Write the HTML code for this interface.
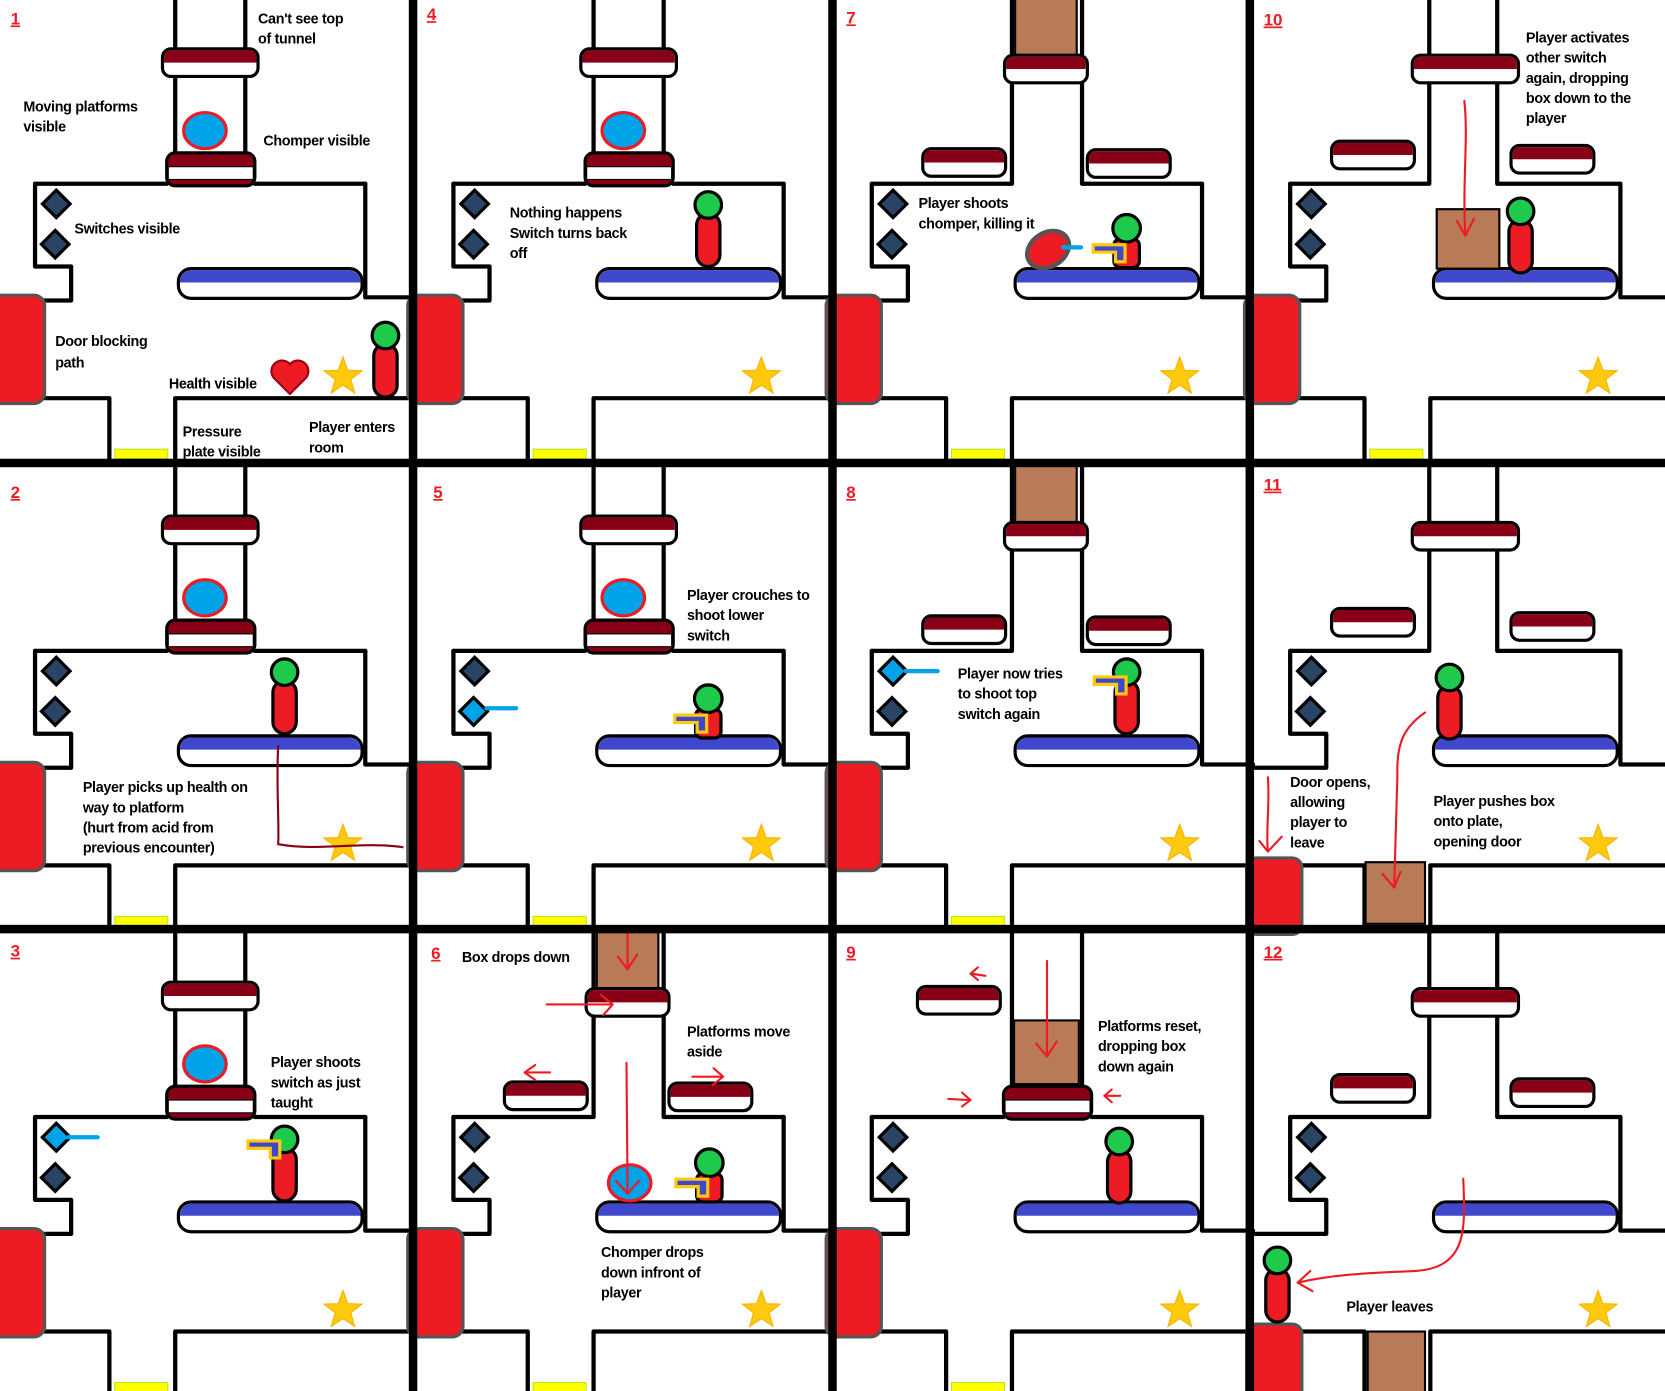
<!DOCTYPE html>
<html><head><meta charset="utf-8"><style>
html,body{margin:0;padding:0;background:#fff;}
svg{display:block;}
.t{font-family:"Liberation Sans",sans-serif;font-weight:bold;font-size:13.5px;fill:#000;letter-spacing:-0.3px;}
.n{font-family:"Liberation Sans",sans-serif;font-weight:bold;font-size:16px;fill:#ed1c24;text-decoration:underline;}
.w{fill:none;stroke:#000;stroke-width:4;stroke-linejoin:round;stroke-linecap:round;}
.a{fill:none;stroke:#ed1c24;stroke-width:2;stroke-linecap:round;stroke-linejoin:round;}
</style></head><body>
<svg width="1665" height="1391" viewBox="0 0 1568 1310" preserveAspectRatio="none" xmlns="http://www.w3.org/2000/svg">
<defs>
<g id="p90"><rect x="0" y="0" width="90" height="26" rx="8" fill="#fff" stroke="#000" stroke-width="3"/><path d="M8,1.5 H82 A6.5,6.5 0 0 1 88.5,8 V13 H1.5 V8 A6.5,6.5 0 0 1 8,1.5Z" fill="#880015"/></g>
<g id="p80"><rect x="0" y="0" width="78" height="26" rx="8" fill="#fff" stroke="#000" stroke-width="3"/><path d="M8,1.5 H70 A6.5,6.5 0 0 1 76.5,8 V13 H1.5 V8 A6.5,6.5 0 0 1 8,1.5Z" fill="#880015"/></g>
<g id="p100"><rect x="0" y="0" width="100" height="26" rx="8" fill="#fff" stroke="#000" stroke-width="3"/><path d="M8,1.5 H92 A6.5,6.5 0 0 1 98.5,8 V13 H1.5 V8 A6.5,6.5 0 0 1 8,1.5Z" fill="#880015"/></g>
<g id="lowA"><rect x="157" y="144" width="83" height="31" rx="8" fill="#880015" stroke="#000" stroke-width="3"/><rect x="158.5" y="157" width="80" height="12" fill="#fff" stroke="#000" stroke-width="1"/></g>
<polygon id="st" transform="scale(1.1)" points="0,-17 4.11,-5.66 16.17,-5.25 6.66,2.16 9.99,13.75 0,7 -9.99,13.75 -6.66,2.16 -16.17,-5.25 -4.11,-5.66" fill="#ffc90e" stroke="#f7b500" stroke-width="1"/>
<polygon id="dm" points="0,-13 13,0 0,13 -13,0" fill="#2a4466" stroke="#000" stroke-width="3"/>
<polygon id="dl" points="0,-13 13,0 0,13 -13,0" fill="#00a2e8" stroke="#000" stroke-width="3"/>
<g id="gun"><path d="M0,0 H33 V19 H21 V10 H0 Z" fill="#ffc90e"/><path d="M3,3 H30 V16 H24 V7 H3 Z" fill="#3f48cc"/></g>
<g id="pl"><rect x="-11" y="8" width="22" height="50" rx="11" fill="#ed1c24" stroke="#000" stroke-width="3"/><circle cx="0" cy="0" r="12.5" fill="#1ec94c" stroke="#000" stroke-width="3"/></g>
<g id="pc"><rect x="-12" y="10" width="24" height="27" rx="6" fill="#ed1c24" stroke="#000" stroke-width="3"/><circle cx="0" cy="0" r="13" fill="#1ec94c" stroke="#000" stroke-width="3"/><use href="#gun" x="-33" y="14"/></g>
<g id="door"><rect x="-10" y="278" width="52" height="102" rx="10" fill="#ed1c24" stroke="#555" stroke-width="3"/></g>
<g id="door2"><rect x="-8" y="368" width="52" height="72" rx="9" fill="#ed1c24" stroke="#555" stroke-width="3"/></g>
<g id="base">
<path class="w" d="M33,173 L33,251 L67,251 L67,283 L0,283 M42,375 L103,375 L103,436 M165,436 L165,375 L392,375 M344,173 L344,280 L392,280"/>
<rect x="108" y="423" width="50" height="9" fill="#ffff00" stroke="#b5e61d" stroke-width="1"/>
<rect x="168" y="253" width="173" height="28" rx="12" fill="#fff" stroke="#000" stroke-width="3"/>
<path d="M180,254.5 H329 A11,11 0 0 1 339.5,266 H169.5 A11,11 0 0 1 180,254.5Z" fill="#3f48cc"/>
<use href="#st" x="323" y="355"/>
<use href="#dm" x="53" y="192"/><use href="#dm" x="52" y="230"/>
</g>
<g id="topA">
<path class="w" d="M33,173 L157,173 M240,173 L344,173 M165,0 V47 M231,0 V47 M165,71 V145 M231,71 V145"/>
<use href="#p90" x="153" y="46"/>
<use href="#lowA"/>
</g>
<g id="chA"><ellipse cx="193" cy="123" rx="20" ry="17" fill="#00a2e8" stroke="#ed1c24" stroke-width="3"/></g>
<g id="topB">
<path class="w" d="M33,173 L165,173 V77 M231,77 V173 L344,173 M165,0 V52 M231,0 V52"/>
<rect x="168" y="-3" width="58" height="56" fill="#b97a57" stroke="#000" stroke-width="2"/>
<use href="#p80" x="158" y="52"/>
<use href="#p80" x="81" y="140"/>
<use href="#p80" x="236" y="141"/>
</g>
<g id="topC">
<path class="w" d="M33,173 L164,173 V79 M228,79 V173 L344,173 M164,0 V52 M228,0 V52"/>
<use href="#p100" x="148" y="52"/>
<use href="#p80" x="72" y="133"/>
<use href="#p80" x="241" y="137"/>
</g>
</defs>
<rect width="1568" height="1310" fill="#fff"/>

<g transform="translate(0,0)">
<use href="#base"/><use href="#door"/><use href="#topA"/><use href="#chA"/>
<use href="#pl" x="363" y="316"/>
<path d="M273,371 L258,356 A8.5,8.5 0 0 1 273,343 A8.5,8.5 0 0 1 288,356 Z" fill="#ed1c24" stroke="#9a0012" stroke-width="2"/>
<text class="n" x="10" y="23">1</text>
<text class="t" x="243" y="22">Can't see top</text><text class="t" x="243" y="41">of tunnel</text>
<text class="t" x="22" y="105">Moving platforms</text><text class="t" x="22" y="124">visible</text>
<text class="t" x="248" y="137">Chomper visible</text>
<text class="t" x="70" y="220">Switches visible</text>
<text class="t" x="52" y="326">Door blocking</text><text class="t" x="52" y="346">path</text>
<text class="t" x="159" y="366">Health visible</text>
<text class="t" x="172" y="411">Pressure</text><text class="t" x="172" y="430">plate visible</text>
<text class="t" x="291" y="407">Player enters</text><text class="t" x="291" y="426">room</text>
</g>
<g transform="translate(0,440)">
<use href="#base"/><use href="#door"/><use href="#topA"/><use href="#chA"/>
<use href="#pl" x="268" y="193"/>
<path d="M262,262 C260,300 263,330 262,355 C300,362 340,352 380,358" fill="none" stroke="#880015" stroke-width="2"/>
<text class="n" x="10" y="29">2</text>
<text class="t" x="78" y="306">Player picks up health on</text><text class="t" x="78" y="325">way to platform</text>
<text class="t" x="78" y="344">(hurt from acid from</text><text class="t" x="78" y="363">previous encounter)</text>
</g>
<g transform="translate(0,879)">
<use href="#base"/><use href="#door"/><use href="#topA"/><use href="#chA"/>
<use href="#dl" x="53" y="192"/>
<line x1="64" y1="192" x2="92" y2="192" stroke="#00a2e8" stroke-width="4" stroke-linecap="round"/>
<use href="#pl" x="268" y="194"/><use href="#gun" x="232" y="194"/>
<text class="n" x="10" y="22">3</text>
<text class="t" x="255" y="126">Player shoots</text><text class="t" x="255" y="145">switch as just</text><text class="t" x="255" y="164">taught</text>
</g>
<g transform="translate(394,0)">
<use href="#base"/><use href="#door"/><use href="#topA"/><use href="#chA"/>
<use href="#pl" x="273" y="193"/>
<text class="n" x="8" y="19">4</text>
<text class="t" x="86" y="205">Nothing happens</text><text class="t" x="86" y="224">Switch turns back</text><text class="t" x="86" y="243">off</text>
</g>
<g transform="translate(394,440)">
<use href="#base"/><use href="#door"/><use href="#topA"/><use href="#chA"/>
<use href="#dl" x="52" y="230"/>
<line x1="64" y1="227" x2="92" y2="227" stroke="#00a2e8" stroke-width="4" stroke-linecap="round"/>
<use href="#pc" x="273" y="218"/>
<text class="n" x="14" y="29">5</text>
<text class="t" x="253" y="125">Player crouches to</text><text class="t" x="253" y="144">shoot lower</text><text class="t" x="253" y="163">switch</text>
</g>
<g transform="translate(394,879)">
<use href="#base"/><use href="#door"/><use href="#topB"/>
<ellipse cx="199" cy="235" rx="20" ry="17" fill="#00a2e8" stroke="#ed1c24" stroke-width="3"/>
<use href="#pc" x="274" y="216"/>
<path class="a" d="M197,0 L197,33 M188,22 L197,34 L206,20"/>
<path class="a" d="M121,67 L183,67 M172,58 L183,67 L174,77"/>
<path class="a" d="M124,131 L100,131 M110,124 L100,131 L110,138"/>
<path class="a" d="M258,135 L287,135 M278,127 L287,135 L277,143"/>
<path class="a" d="M196,122 L197,244 M186,233 L197,245 L208,233"/>
<text class="n" x="12" y="24">6</text>
<text class="t" x="41" y="27">Box drops down</text>
<text class="t" x="253" y="97">Platforms move</text><text class="t" x="253" y="116">aside</text>
<text class="t" x="172" y="305">Chomper drops</text><text class="t" x="172" y="324">down infront of</text><text class="t" x="172" y="343">player</text>
</g>
<g transform="translate(788,0)">
<use href="#base"/><use href="#door"/><use href="#topB"/>
<ellipse cx="199" cy="235" rx="21" ry="16" transform="rotate(-32 199 235)" fill="#ed1c24" stroke="#555" stroke-width="4"/>
<line x1="213" y1="233" x2="230" y2="233" stroke="#00a2e8" stroke-width="4" stroke-linecap="round"/>
<use href="#pc" x="273" y="215"/>
<text class="n" x="9" y="22">7</text>
<text class="t" x="77" y="196">Player shoots</text><text class="t" x="77" y="215">chomper, killing it</text>
</g>
<g transform="translate(788,440)">
<use href="#base"/><use href="#door"/><use href="#topB"/>
<use href="#dl" x="53" y="192"/>
<line x1="65" y1="192" x2="95" y2="192" stroke="#00a2e8" stroke-width="4" stroke-linecap="round"/>
<use href="#pl" x="273" y="193"/><use href="#gun" x="241" y="196"/>
<text class="n" x="9" y="29">8</text>
<text class="t" x="114" y="199">Player now tries</text><text class="t" x="114" y="218">to shoot top</text><text class="t" x="114" y="237">switch again</text>
</g>
<g transform="translate(788,879)">
<use href="#base"/><use href="#door"/>
<path class="w" d="M33,173 L157,173 M240,173 L344,173 M165,0 V145 M231,0 V145"/>
<rect x="167" y="82" width="61" height="60" fill="#b97a57" stroke="#000" stroke-width="2"/>
<use href="#lowA"/>
<use href="#p80" x="76" y="50"/>
<use href="#pl" x="266" y="196"/>
<path class="a" d="M127,38 L140,40 M133,32 L126,38 L133,44"/>
<path class="a" d="M198,26 L198,116 M188,104 L198,116 L207,102"/>
<path class="a" d="M105,156 L125,157 M118,150 L126,157 L118,163"/>
<path class="a" d="M267,153 L252,153 M259,147 L252,153 L259,159"/>
<text class="n" x="9" y="23">9</text>
<text class="t" x="246" y="92">Platforms reset,</text><text class="t" x="246" y="111">dropping box</text><text class="t" x="246" y="130">down again</text>
</g>
<g transform="translate(1182,0)">
<use href="#base"/><use href="#door"/><use href="#topC"/>
<rect x="171" y="197" width="59" height="56" fill="#b97a57" stroke="#000" stroke-width="2"/>
<use href="#pl" x="250" y="199"/>
<path class="a" d="M197,95 C201,130 195,170 198,222 M190,208 L198,222 L206,206"/>
<text class="n" x="8" y="24">10</text>
<text class="t" x="255" y="40">Player activates</text><text class="t" x="255" y="59">other switch</text><text class="t" x="255" y="78">again, dropping</text>
<text class="t" x="255" y="97">box down to the</text><text class="t" x="255" y="116">player</text>
</g>
<g transform="translate(1182,440)">
<use href="#base"/><use href="#door2"/><use href="#topC"/>
<rect x="104" y="372" width="56" height="58" fill="#b97a57" stroke="#000" stroke-width="2"/>
<use href="#pl" x="183" y="198"/>
<path class="a" d="M12,292 C14,320 10,340 12,362 M4,352 L12,362 L25,348"/>
<path class="a" d="M160,231 C140,245 133,260 134,290 L131,395 M120,383 L131,396 L137,381"/>
<text class="n" x="8" y="22">11</text>
<text class="t" x="33" y="301">Door opens,</text><text class="t" x="33" y="320">allowing</text><text class="t" x="33" y="339">player to</text><text class="t" x="33" y="358">leave</text>
<text class="t" x="168" y="319">Player pushes box</text><text class="t" x="168" y="338">onto plate,</text><text class="t" x="168" y="357">opening door</text>
</g>
<g transform="translate(1182,879)">
<use href="#base"/><use href="#door2"/><use href="#topC"/>
<rect x="106" y="375" width="54" height="58" fill="#b97a57" stroke="#000" stroke-width="2"/>
<use href="#pl" x="21" y="308"/>
<path class="a" d="M196,231 C198,280 200,315 150,318 C100,320 70,322 40,329 M52,318 L40,329 L54,337"/>
<text class="n" x="8" y="23">12</text>
<text class="t" x="86" y="356">Player leaves</text>
</g>

<rect x="385" y="0" width="8" height="1310" fill="#000"/>
<rect x="780" y="0" width="8" height="1310" fill="#000"/>
<rect x="1173" y="0" width="8" height="1310" fill="#000"/>
<rect x="0" y="432" width="1568" height="8" fill="#000"/>
<rect x="0" y="871" width="1568" height="8" fill="#000"/>
</svg>
</body></html>
